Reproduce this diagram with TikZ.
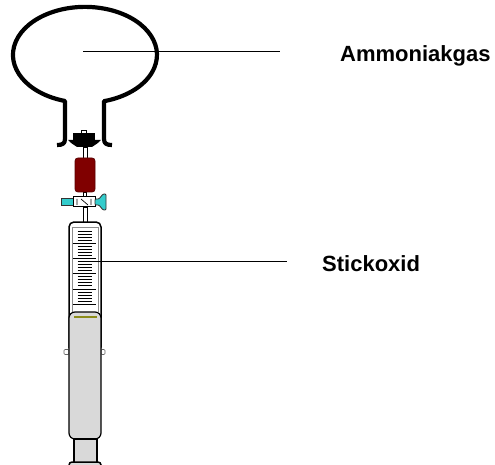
\documentclass[tikz,border=0pt]{standalone}
\usepackage{fontspec}
\setmainfont{Liberation Sans}
\begin{document}
\begin{tikzpicture}[x=1pt,y=-1pt,
  glass/.style={line width=4.2pt, line join=round},
  label/.style={font=\fontsize{22}{24}\selectfont\bfseries, inner sep=0pt, anchor=base west},
  leader/.style={line width=0.9pt},
  grey/.style={fill=plungergrey, draw=black, line width=1.2pt}]
\definecolor{plungergrey}{HTML}{D9D9D9}
\definecolor{stopred}{HTML}{800000}
\definecolor{valvecyan}{HTML}{33CCCC}
\definecolor{olive}{HTML}{8C8C1A}
\useasboundingbox (0,0) rectangle (495,465);

% flask: round body with a neck ending in small lips
\draw[glass] (57,145) .. controls (62,145) and (65,144) .. (65,139) -- (65,101)
  arc[start angle=106.1, end angle=434.7, x radius=72, y radius=48]
  -- (104,139) .. controls (104,144) and (107,145) .. (112,145);

% stopper in the neck
\draw[fill=white, line width=0.8pt] (81,130) rectangle (86,134);
\fill (73,133.5) rectangle (95,141);
\fill (68,140) -- (101,140) .. controls (98,143) .. (92,147) -- (77,147) .. controls (71,143) .. (68,140) -- cycle;

% tube stems
\draw[fill=white, line width=0.8pt] (83,147) rectangle (87,158);
\draw[fill=white, line width=0.8pt] (83.5,192) rectangle (86.5,197);
\draw[fill=white, line width=0.8pt] (83,207) rectangle (87,223);

% red tube piece
\draw[fill=stopred, draw=stopred!70!black, line width=0.8pt, rounded corners=3pt] (75,158) rectangle (95,192);

% three-way valve
\draw[fill=valvecyan, draw=black!80, line width=0.8pt] (61,198.5) rectangle (73,205.5);
\draw[fill=white, draw=black, line width=1pt] (73,197) rectangle (95,207);
\draw[line width=0.7pt] (77,199) -- (77,205) (91,199) -- (91,205) (81,199) -- (88,205);
\draw[fill=valvecyan, draw=black!80, line width=0.8pt, rounded corners=1pt] (95,199) -- (99,199) -- (103,194) -- (106,194) -- (106,210) -- (103,210) -- (99,205) -- (95,205) -- cycle;

% syringe barrel
\draw[fill=white, line width=1.5pt, rounded corners=5pt] (69,222) rectangle (101,352);
\draw[black!45, line width=0.5pt] (72,312) -- (72,227) -- (98,227) -- (98,312);

% graduation marks
\foreach \i in {0,...,24} {
  \pgfmathsetmacro{\yy}{231+3.05*\i}
  \pgfmathtruncatemacro{\m}{mod(\i,5)}
  \ifnum\m=4
    \draw[line width=0.9pt] (73,\yy) -- (96,\yy);
  \else
    \draw[line width=0.9pt] (77.5,\yy) -- (92,\yy);
  \fi
}

% finger flanges
\draw[fill=white, draw=black!60, line width=0.6pt, rounded corners=1pt] (64,349.5) rectangle (69,354.5);
\draw[fill=white, draw=black!60, line width=0.6pt, rounded corners=1pt] (101,349.5) rectangle (105,354.5);

% plunger
\draw[grey, rounded corners=6pt] (69,312) rectangle (101,439);
\draw[olive, line width=1.2pt] (74,317) -- (97,317);
\draw[grey] (74,439) rectangle (97,463);
\draw[grey, line width=1.5pt, rounded corners=3pt] (69,462) rectangle (101,478);

% labels and leader lines
\coordinate (gasin) at (83,51);
\coordinate (gasend) at (280,51);
\coordinate (noin) at (87,261);
\coordinate (noend) at (287,261);
\node[label] (amm) at (340,62) {Ammoniakgas};
\node[label] (stick) at (322,271) {Stickoxid};
\draw[leader] (gasin) -- (gasend);
\draw[leader] (noin) -- (noend);
\end{tikzpicture}
\end{document}
